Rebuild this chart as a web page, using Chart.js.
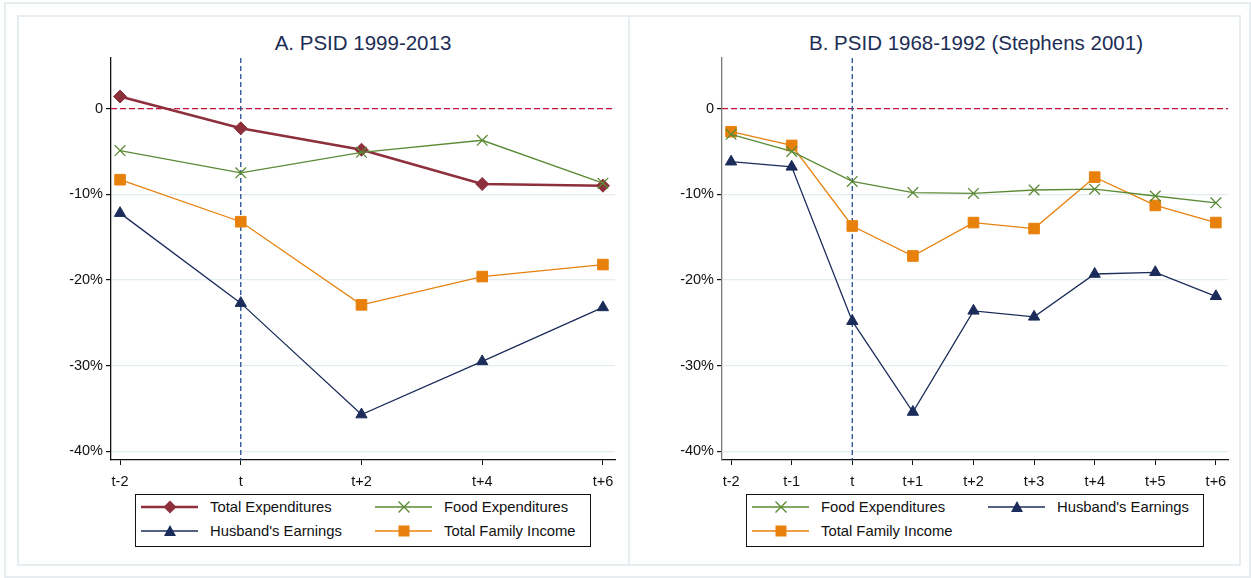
<!DOCTYPE html>
<html>
<head>
<meta charset="utf-8">
<script src="https://cdn.jsdelivr.net/npm/chart.js@4.4.1/dist/chart.umd.min.js"></script>
<style>
  html, body { margin: 0; padding: 0; background: #fff; }
  body { width: 1251px; height: 578px; position: relative; overflow: hidden;
         font-family: "Liberation Sans", Arial, sans-serif; }
  .frame { position: absolute; border: 2px solid #e7eef2; box-sizing: border-box; }
  .panel-canvas { position: absolute; }
  .title { position: absolute; font-size: 20.5px; color: #1c2d55; white-space: nowrap;
           transform: translateX(-50%); }
  .legend { position: absolute; border: 1.5px solid #111; box-sizing: border-box; background: #fff; }
  .item { position: absolute; display: flex; align-items: center; font-size: 14.8px; color: #111; white-space: nowrap; }
  .item svg { display: block; margin-right: 12px; }
</style>
</head>
<body>
<div class="frame" style="left:4px; top:2px; width:1247px; height:576px;"></div>
<div class="frame" style="left:17px; top:15px; width:613px; height:551px;"></div>
<div class="frame" style="left:628px; top:15px; width:613px; height:551px;"></div>

<div class="title" style="left:363px; top:31px;">A. PSID 1999-2013</div>
<div class="title" style="left:976px; top:31px;">B. PSID 1968-1992 (Stephens 2001)</div>

<div class="panel-canvas" style="left:19px; top:17px; width:609px; height:547px;"><canvas id="chartA"></canvas></div>
<div class="panel-canvas" style="left:630px; top:17px; width:609px; height:547px;"><canvas id="chartB"></canvas></div>

<div class="legend" id="legendA" style="left:135px; top:494px; width:456px; height:53px;"></div>
<div class="legend" id="legendB" style="left:746px; top:494px; width:458px; height:53px;"></div>

<script>
// ---- data (percent change) ----
const yTicks = [0, -10, -20, -30, -40];

// Panel A: PSID 1999-2013
const xA = [-2, 0, 2, 4, 6];
const labelsA = ['t-2', 't', 't+2', 't+4', 't+6'];
const totalExpA = [1.4, -2.3, -4.8, -8.8, -9.0];
const foodExpA = [-4.9, -7.5, -5.1, -3.7, -8.7];
const husbandA = [-12.2, -22.7, -35.7, -29.5, -23.2];
const incomeA = [-8.3, -13.2, -22.9, -19.6, -18.2];

// Panel B: PSID 1968-1992 (Stephens 2001)
const xB = [-2, -1, 0, 1, 2, 3, 4, 5, 6];
const labelsB = ['t-2', 't-1', 't', 't+1', 't+2', 't+3', 't+4', 't+5', 't+6'];
const foodExpB = [-3.0, -5.0, -8.5, -9.8, -9.9, -9.5, -9.4, -10.2, -11.0];
const husbandB = [-6.2, -6.8, -24.8, -35.4, -23.6, -24.3, -19.3, -19.1, -21.9];
const incomeB = [-2.7, -4.3, -13.7, -17.2, -13.3, -14.0, -8.0, -11.3, -13.3];

const COLORS = {
  total: '#8e2f3c',
  food: '#5b8a35',
  husband: '#1b2c5a',
  income: '#e8810c'
};

const SERIES = {
  total: { label: 'Total Expenditures', color: COLORS.total, style: 'rectRot', radius: 6.5, width: 2.6 },
  food: { label: 'Food Expenditures', color: COLORS.food, style: 'crossRot', radius: 7.5, width: 1.3 },
  husband: { label: "Husband's Earnings", color: COLORS.husband, style: 'triangle', radius: 6.5, width: 1.3 },
  income: { label: 'Total Family Income', color: COLORS.income, style: 'rect', radius: 7.5, width: 1.3 }
};

function makeDataset(key, xs, ys) {
  const s = SERIES[key];
  return {
    label: s.label,
    data: xs.map(function (x, i) { return { x: x, y: ys[i] }; }),
    borderColor: s.color,
    backgroundColor: s.color,
    borderWidth: s.width,
    pointStyle: s.style,
    pointRadius: s.radius,
    pointBorderWidth: key === 'food' ? 1.3 : 1,
    pointBorderColor: s.color,
    pointBackgroundColor: s.color,
    tension: 0,
    clip: false
  };
}

// dashed reference lines at y = 0 and x = 0 (t)
const refLines = {
  id: 'refLines',
  beforeDatasetsDraw: function (chart) {
    const ctx = chart.ctx;
    const area = chart.chartArea;
    const x0 = chart.scales.x.getPixelForValue(0);
    const y0 = chart.scales.y.getPixelForValue(0);
    ctx.save();
    ctx.lineWidth = 1.3;
    ctx.strokeStyle = '#c9123a';
    ctx.setLineDash([6, 3]);
    ctx.beginPath();
    ctx.moveTo(area.left, y0);
    ctx.lineTo(area.right, y0);
    ctx.stroke();
    ctx.strokeStyle = '#1f4f8e';
    ctx.setLineDash([5, 3]);
    ctx.beginPath();
    ctx.moveTo(x0, area.top);
    ctx.lineTo(x0, area.bottom);
    ctx.stroke();
    ctx.restore();
  }
};

function makeChart(id, xs, labels, datasets, axisColor, rightPad) {
  const ctx = document.getElementById(id).getContext('2d');
  return new Chart(ctx, {
    type: 'line',
    data: { datasets: datasets },
    options: {
      responsive: true,
      maintainAspectRatio: false,
      animation: false,
      layout: { padding: { top: 41, right: rightPad, bottom: 0, left: 0 } },
      plugins: {
        legend: { display: false },
        tooltip: { enabled: false }
      },
      scales: {
        x: {
          type: 'linear',
          min: -2.15,
          max: 6.2,
          afterBuildTicks: function (scale) {
            scale.ticks = xs.map(function (v) { return { value: v }; });
          },
          afterFit: function (scale) { scale.height = 104; },
          ticks: {
            autoSkip: false,
            maxRotation: 0,
            padding: 8,
            color: '#111',
            font: { family: 'Liberation Sans', size: 14.5 },
            callback: function (value) { return labels[xs.indexOf(value)]; }
          },
          grid: { drawOnChartArea: false, drawTicks: true, tickLength: 5, tickColor: '#111' },
          border: { color: '#111', width: 1.3 }
        },
        y: {
          min: -41,
          max: 5.9,
          afterBuildTicks: function (scale) {
            scale.ticks = yTicks.map(function (v) { return { value: v }; });
          },
          afterFit: function (scale) { scale.width = 92; },
          ticks: {
            padding: 3,
            color: '#111',
            font: { family: 'Liberation Sans', size: 14.5 },
            callback: function (value) { return value === 0 ? '0' : value + '%'; }
          },
          grid: { color: '#e3edf1', lineWidth: 1.2, tickLength: 5, tickColor: '#111' },
          border: { color: axisColor, width: 1.3 }
        }
      }
    },
    plugins: [refLines]
  });
}

makeChart('chartA', xA, labelsA, [
  makeDataset('food', xA, foodExpA),
  makeDataset('husband', xA, husbandA),
  makeDataset('income', xA, incomeA),
  makeDataset('total', xA, totalExpA)
], '#111', 13);

makeChart('chartB', xB, labelsB, [
  makeDataset('food', xB, foodExpB),
  makeDataset('husband', xB, husbandB),
  makeDataset('income', xB, incomeB)
], '#7a7a7a', 11);

// ---- legends (HTML text with small SVG keys) ----
function markerSvg(key) {
  const s = SERIES[key];
  const c = s.color;
  let m = '';
  if (key === 'total') m = '<polygon points="29,1.5 35.5,8 29,14.5 22.5,8" fill="' + c + '"/>';
  if (key === 'food') m = '<path d="M23.5,2.5 L34.5,13.5 M34.5,2.5 L23.5,13.5" stroke="' + c + '" stroke-width="1.4"/>';
  if (key === 'husband') m = '<polygon points="29,2 35,13 23,13" fill="' + c + '"/>';
  if (key === 'income') m = '<rect x="23.5" y="2.5" width="11" height="11" fill="' + c + '"/>';
  return '<svg width="57" height="16" viewBox="0 0 57 16"><line x1="0" y1="8" x2="57" y2="8" stroke="' + c +
    '" stroke-width="' + s.width + '"/>' + m + '</svg>';
}

function buildLegend(elId, items) {
  const el = document.getElementById(elId);
  items.forEach(function (it) {
    const d = document.createElement('div');
    d.className = 'item';
    d.style.left = it.left + 'px';
    d.style.top = it.top + 'px';
    d.innerHTML = markerSvg(it.key) + '<span>' + SERIES[it.key].label + '</span>';
    el.appendChild(d);
  });
}

buildLegend('legendA', [
  { key: 'total', left: 5, top: 4 },
  { key: 'food', left: 239, top: 4 },
  { key: 'husband', left: 5, top: 28 },
  { key: 'income', left: 239, top: 28 }
]);

buildLegend('legendB', [
  { key: 'food', left: 5, top: 4 },
  { key: 'husband', left: 241, top: 4 },
  { key: 'income', left: 5, top: 28 }
]);
</script>
</body>
</html>
